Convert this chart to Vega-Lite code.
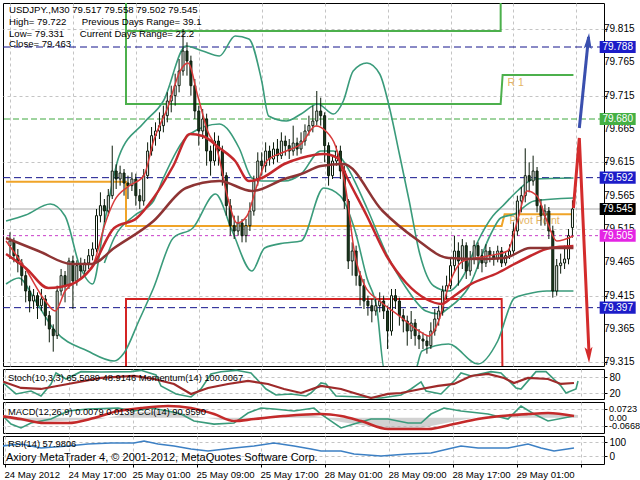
{
  "$schema": "https://vega.github.io/schema/vega-lite/v6.json",
  "background": "white",
  "padding": {"left": 2, "top": 2, "right": 0, "bottom": 0},
  "bounds": "flush",
  "spacing": 3,
  "config": {
    "view": {"stroke": "#000000", "strokeWidth": 1},
    "font": "Liberation Sans",
    "axis": {"domain": false, "gridColor": "#c4c4c4", "gridDash": [3, 3], "tickColor": "#000000", "labelColor": "#000000", "labelFont": "Liberation Sans", "labelFontSize": 10, "tickSize": 3, "labelPadding": 2, "labelOverlap": false}
  },
  "datasets": {
    "candles": [
      {"i":0,"o":79.490,"h":79.510,"l":79.470,"c":79.497},
      {"i":1,"o":79.497,"h":79.502,"l":79.465,"c":79.475},
      {"i":2,"o":79.475,"h":79.485,"l":79.450,"c":79.464},
      {"i":3,"o":79.464,"h":79.470,"l":79.430,"c":79.445},
      {"i":4,"o":79.445,"h":79.452,"l":79.405,"c":79.422},
      {"i":5,"o":79.422,"h":79.430,"l":79.390,"c":79.407},
      {"i":6,"o":79.407,"h":79.425,"l":79.395,"c":79.415},
      {"i":7,"o":79.415,"h":79.420,"l":79.380,"c":79.400},
      {"i":8,"o":79.400,"h":79.425,"l":79.392,"c":79.410},
      {"i":9,"o":79.410,"h":79.416,"l":79.370,"c":79.385},
      {"i":10,"o":79.385,"h":79.392,"l":79.345,"c":79.365},
      {"i":11,"o":79.365,"h":79.372,"l":79.331,"c":79.355},
      {"i":12,"o":79.355,"h":79.430,"l":79.350,"c":79.422},
      {"i":13,"o":79.422,"h":79.455,"l":79.415,"c":79.445},
      {"i":14,"o":79.445,"h":79.452,"l":79.405,"c":79.430},
      {"i":15,"o":79.430,"h":79.472,"l":79.425,"c":79.467},
      {"i":16,"o":79.467,"h":79.475,"l":79.395,"c":79.437},
      {"i":17,"o":79.437,"h":79.468,"l":79.430,"c":79.460},
      {"i":18,"o":79.460,"h":79.472,"l":79.440,"c":79.452},
      {"i":19,"o":79.452,"h":79.470,"l":79.445,"c":79.464},
      {"i":20,"o":79.464,"h":79.485,"l":79.455,"c":79.475},
      {"i":21,"o":79.475,"h":79.495,"l":79.468,"c":79.485},
      {"i":22,"o":79.485,"h":79.545,"l":79.480,"c":79.535},
      {"i":23,"o":79.535,"h":79.570,"l":79.525,"c":79.550},
      {"i":24,"o":79.550,"h":79.560,"l":79.525,"c":79.542},
      {"i":25,"o":79.542,"h":79.575,"l":79.535,"c":79.565},
      {"i":26,"o":79.565,"h":79.640,"l":79.560,"c":79.602},
      {"i":27,"o":79.602,"h":79.612,"l":79.575,"c":79.590},
      {"i":28,"o":79.590,"h":79.610,"l":79.580,"c":79.599},
      {"i":29,"o":79.599,"h":79.605,"l":79.565,"c":79.584},
      {"i":30,"o":79.584,"h":79.595,"l":79.560,"c":79.580},
      {"i":31,"o":79.580,"h":79.600,"l":79.572,"c":79.590},
      {"i":32,"o":79.590,"h":79.598,"l":79.550,"c":79.565},
      {"i":33,"o":79.565,"h":79.575,"l":79.545,"c":79.557},
      {"i":34,"o":79.557,"h":79.605,"l":79.550,"c":79.595},
      {"i":35,"o":79.595,"h":79.645,"l":79.590,"c":79.632},
      {"i":36,"o":79.632,"h":79.668,"l":79.625,"c":79.655},
      {"i":37,"o":79.655,"h":79.675,"l":79.640,"c":79.662},
      {"i":38,"o":79.662,"h":79.690,"l":79.650,"c":79.670},
      {"i":39,"o":79.670,"h":79.700,"l":79.660,"c":79.685},
      {"i":40,"o":79.685,"h":79.720,"l":79.675,"c":79.707},
      {"i":41,"o":79.707,"h":79.730,"l":79.690,"c":79.715},
      {"i":42,"o":79.715,"h":79.748,"l":79.700,"c":79.730},
      {"i":43,"o":79.730,"h":79.770,"l":79.720,"c":79.752},
      {"i":44,"o":79.752,"h":79.815,"l":79.745,"c":79.782},
      {"i":45,"o":79.782,"h":79.795,"l":79.745,"c":79.767},
      {"i":46,"o":79.767,"h":79.775,"l":79.715,"c":79.730},
      {"i":47,"o":79.730,"h":79.740,"l":79.680,"c":79.692},
      {"i":48,"o":79.692,"h":79.700,"l":79.640,"c":79.662},
      {"i":49,"o":79.662,"h":79.695,"l":79.650,"c":79.680},
      {"i":50,"o":79.680,"h":79.688,"l":79.610,"c":79.632},
      {"i":51,"o":79.632,"h":79.640,"l":79.595,"c":79.617},
      {"i":52,"o":79.617,"h":79.660,"l":79.610,"c":79.647},
      {"i":53,"o":79.647,"h":79.655,"l":79.610,"c":79.632},
      {"i":54,"o":79.632,"h":79.640,"l":79.580,"c":79.595},
      {"i":55,"o":79.595,"h":79.600,"l":79.535,"c":79.550},
      {"i":56,"o":79.550,"h":79.560,"l":79.505,"c":79.520},
      {"i":57,"o":79.520,"h":79.535,"l":79.500,"c":79.512},
      {"i":58,"o":79.512,"h":79.535,"l":79.505,"c":79.524},
      {"i":59,"o":79.524,"h":79.530,"l":79.495,"c":79.505},
      {"i":60,"o":79.505,"h":79.530,"l":79.495,"c":79.520},
      {"i":61,"o":79.520,"h":79.555,"l":79.512,"c":79.542},
      {"i":62,"o":79.542,"h":79.595,"l":79.535,"c":79.587},
      {"i":63,"o":79.587,"h":79.630,"l":79.580,"c":79.617},
      {"i":64,"o":79.617,"h":79.630,"l":79.595,"c":79.610},
      {"i":65,"o":79.610,"h":79.645,"l":79.600,"c":79.632},
      {"i":66,"o":79.632,"h":79.640,"l":79.610,"c":79.620},
      {"i":67,"o":79.620,"h":79.645,"l":79.612,"c":79.635},
      {"i":68,"o":79.635,"h":79.650,"l":79.615,"c":79.625},
      {"i":69,"o":79.625,"h":79.660,"l":79.620,"c":79.647},
      {"i":70,"o":79.647,"h":79.655,"l":79.625,"c":79.640},
      {"i":71,"o":79.640,"h":79.650,"l":79.620,"c":79.632},
      {"i":72,"o":79.632,"h":79.670,"l":79.625,"c":79.644},
      {"i":73,"o":79.644,"h":79.652,"l":79.625,"c":79.635},
      {"i":74,"o":79.635,"h":79.660,"l":79.628,"c":79.647},
      {"i":75,"o":79.647,"h":79.672,"l":79.640,"c":79.662},
      {"i":76,"o":79.662,"h":79.685,"l":79.655,"c":79.670},
      {"i":77,"o":79.670,"h":79.700,"l":79.660,"c":79.677},
      {"i":78,"o":79.677,"h":79.722,"l":79.670,"c":79.692},
      {"i":79,"o":79.692,"h":79.712,"l":79.670,"c":79.685},
      {"i":80,"o":79.685,"h":79.690,"l":79.615,"c":79.640},
      {"i":81,"o":79.640,"h":79.645,"l":79.580,"c":79.595},
      {"i":82,"o":79.595,"h":79.625,"l":79.590,"c":79.617},
      {"i":83,"o":79.617,"h":79.640,"l":79.610,"c":79.632},
      {"i":84,"o":79.632,"h":79.640,"l":79.590,"c":79.602},
      {"i":85,"o":79.602,"h":79.610,"l":79.545,"c":79.557},
      {"i":86,"o":79.557,"h":79.560,"l":79.455,"c":79.467},
      {"i":87,"o":79.467,"h":79.495,"l":79.445,"c":79.482},
      {"i":88,"o":79.482,"h":79.490,"l":79.430,"c":79.445},
      {"i":89,"o":79.445,"h":79.452,"l":79.400,"c":79.430},
      {"i":90,"o":79.430,"h":79.440,"l":79.395,"c":79.407},
      {"i":91,"o":79.407,"h":79.415,"l":79.385,"c":79.400},
      {"i":92,"o":79.400,"h":79.410,"l":79.375,"c":79.392},
      {"i":93,"o":79.392,"h":79.410,"l":79.385,"c":79.400},
      {"i":94,"o":79.400,"h":79.420,"l":79.390,"c":79.407},
      {"i":95,"o":79.407,"h":79.415,"l":79.380,"c":79.392},
      {"i":96,"o":79.392,"h":79.400,"l":79.335,"c":79.362},
      {"i":97,"o":79.362,"h":79.425,"l":79.355,"c":79.415},
      {"i":98,"o":79.415,"h":79.425,"l":79.395,"c":79.407},
      {"i":99,"o":79.407,"h":79.412,"l":79.370,"c":79.385},
      {"i":100,"o":79.385,"h":79.395,"l":79.360,"c":79.377},
      {"i":101,"o":79.377,"h":79.385,"l":79.340,"c":79.362},
      {"i":102,"o":79.362,"h":79.392,"l":79.350,"c":79.374},
      {"i":103,"o":79.374,"h":79.380,"l":79.340,"c":79.355},
      {"i":104,"o":79.355,"h":79.365,"l":79.335,"c":79.350},
      {"i":105,"o":79.350,"h":79.360,"l":79.335,"c":79.347},
      {"i":106,"o":79.347,"h":79.355,"l":79.328,"c":79.340},
      {"i":107,"o":79.340,"h":79.375,"l":79.335,"c":79.362},
      {"i":108,"o":79.362,"h":79.395,"l":79.355,"c":79.380},
      {"i":109,"o":79.380,"h":79.400,"l":79.370,"c":79.392},
      {"i":110,"o":79.392,"h":79.430,"l":79.385,"c":79.422},
      {"i":111,"o":79.422,"h":79.445,"l":79.410,"c":79.430},
      {"i":112,"o":79.430,"h":79.470,"l":79.425,"c":79.460},
      {"i":113,"o":79.460,"h":79.505,"l":79.450,"c":79.482},
      {"i":114,"o":79.482,"h":79.495,"l":79.430,"c":79.467},
      {"i":115,"o":79.467,"h":79.500,"l":79.455,"c":79.490},
      {"i":116,"o":79.490,"h":79.495,"l":79.440,"c":79.452},
      {"i":117,"o":79.452,"h":79.482,"l":79.445,"c":79.470},
      {"i":118,"o":79.470,"h":79.498,"l":79.462,"c":79.490},
      {"i":119,"o":79.490,"h":79.495,"l":79.455,"c":79.475},
      {"i":120,"o":79.475,"h":79.485,"l":79.450,"c":79.464},
      {"i":121,"o":79.464,"h":79.492,"l":79.458,"c":79.482},
      {"i":122,"o":79.482,"h":79.488,"l":79.465,"c":79.475},
      {"i":123,"o":79.475,"h":79.482,"l":79.460,"c":79.470},
      {"i":124,"o":79.470,"h":79.490,"l":79.465,"c":79.482},
      {"i":125,"o":79.482,"h":79.488,"l":79.458,"c":79.464},
      {"i":126,"o":79.464,"h":79.482,"l":79.460,"c":79.475},
      {"i":127,"o":79.475,"h":79.492,"l":79.470,"c":79.482},
      {"i":128,"o":79.482,"h":79.525,"l":79.475,"c":79.512},
      {"i":129,"o":79.512,"h":79.565,"l":79.505,"c":79.557},
      {"i":130,"o":79.557,"h":79.578,"l":79.540,"c":79.565},
      {"i":131,"o":79.565,"h":79.636,"l":79.555,"c":79.595},
      {"i":132,"o":79.595,"h":79.615,"l":79.570,"c":79.587},
      {"i":133,"o":79.587,"h":79.625,"l":79.580,"c":79.602},
      {"i":134,"o":79.602,"h":79.608,"l":79.540,"c":79.550},
      {"i":135,"o":79.550,"h":79.560,"l":79.520,"c":79.535},
      {"i":136,"o":79.535,"h":79.552,"l":79.520,"c":79.542},
      {"i":137,"o":79.542,"h":79.548,"l":79.500,"c":79.512},
      {"i":138,"o":79.512,"h":79.520,"l":79.412,"c":79.422},
      {"i":139,"o":79.422,"h":79.470,"l":79.415,"c":79.460},
      {"i":140,"o":79.460,"h":79.478,"l":79.448,"c":79.464},
      {"i":141,"o":79.464,"h":79.490,"l":79.455,"c":79.470},
      {"i":142,"o":79.470,"h":79.515,"l":79.462,"c":79.505},
      {"i":143,"o":79.517,"h":79.558,"l":79.502,"c":79.545}
    ],
    "ma": [
      {"s":"U","i":-1,"p":79.527},{"s":"U","i":4,"p":79.536},{"s":"U","i":10.25,"p":79.5525},{"s":"U","i":14,"p":79.5345},{"s":"U","i":17.75,"p":79.4595},{"s":"U","i":21,"p":79.4325},{"s":"U","i":24,"p":79.524},{"s":"U","i":27.75,"p":79.6245},{"s":"U","i":34,"p":79.674},{"s":"U","i":39,"p":79.707},{"s":"U","i":44.75,"p":79.7895},{"s":"U","i":49,"p":79.782},{"s":"U","i":53.25,"p":79.7745},{"s":"U","i":57.25,"p":79.8045},{"s":"U","i":60.75,"p":79.8},{"s":"U","i":64,"p":79.737},{"s":"U","i":65.75,"p":79.6845},{"s":"U","i":70.25,"p":79.677},{"s":"U","i":74,"p":79.6875},{"s":"U","i":78.25,"p":79.7025},{"s":"U","i":82.25,"p":79.6875},{"s":"U","i":84.75,"p":79.707},{"s":"U","i":87.25,"p":79.752},{"s":"U","i":90.75,"p":79.764},{"s":"U","i":94,"p":79.7475},{"s":"U","i":96.5,"p":79.6965},{"s":"U","i":99,"p":79.6275},{"s":"U","i":101.5,"p":79.557},{"s":"U","i":104,"p":79.482},{"s":"U","i":107.75,"p":79.4295},{"s":"U","i":111.5,"p":79.422},{"s":"U","i":115.25,"p":79.4445},{"s":"U","i":119,"p":79.497},{"s":"U","i":122.75,"p":79.5345},{"s":"U","i":125.25,"p":79.5495},{"s":"U","i":129,"p":79.572},{"s":"U","i":133.25,"p":79.59},{"s":"U","i":143.25,"p":79.5915},
      {"s":"M","i":24,"p":79.464},{"s":"M","i":26.5,"p":79.5015},{"s":"M","i":31.5,"p":79.5345},{"s":"M","i":36.5,"p":79.557},{"s":"M","i":39,"p":79.5915},{"s":"M","i":45.75,"p":79.6575},{"s":"M","i":53.25,"p":79.6725},{"s":"M","i":58.25,"p":79.6365},{"s":"M","i":61.5,"p":79.5915},{"s":"M","i":64,"p":79.587},{"s":"M","i":69.75,"p":79.587},{"s":"M","i":74,"p":79.5975},{"s":"M","i":79,"p":79.632},{"s":"M","i":82.25,"p":79.632},{"s":"M","i":84.75,"p":79.617},{"s":"M","i":90.75,"p":79.5465},{"s":"M","i":95.75,"p":79.4775},{"s":"M","i":100.75,"p":79.4265},{"s":"M","i":105.75,"p":79.392},{"s":"M","i":109,"p":79.3875},{"s":"M","i":111.5,"p":79.3965},{"s":"M","i":116.5,"p":79.4265},{"s":"M","i":122.25,"p":79.5075},{"s":"M","i":124.75,"p":79.5315},{"s":"M","i":128.25,"p":79.5375},{"s":"M","i":133.25,"p":79.557},{"s":"M","i":143.25,"p":79.5615},
      {"s":"L","i":-1,"p":79.4325},{"s":"L","i":2.25,"p":79.4415},{"s":"L","i":6.5,"p":79.407},{"s":"L","i":11.5,"p":79.362},{"s":"L","i":19.75,"p":79.332},{"s":"L","i":26.5,"p":79.317},{"s":"L","i":29,"p":79.329},{"s":"L","i":32.75,"p":79.377},{"s":"L","i":36.5,"p":79.4265},{"s":"L","i":41.5,"p":79.5015},{"s":"L","i":46.5,"p":79.5165},{"s":"L","i":52.25,"p":79.5675},{"s":"L","i":56.5,"p":79.512},{"s":"L","i":61.5,"p":79.452},{"s":"L","i":64.75,"p":79.4865},{"s":"L","i":69.75,"p":79.494},{"s":"L","i":74,"p":79.497},{"s":"L","i":79.75,"p":79.5765},{"s":"L","i":84,"p":79.5645},{"s":"L","i":87.75,"p":79.512},{"s":"L","i":90.75,"p":79.4415},{"s":"L","i":93.25,"p":79.3965},{"s":"L","i":95.25,"p":79.302},{"s":"L","i":102.75,"p":79.299},{"s":"L","i":104.75,"p":79.332},{"s":"L","i":111.5,"p":79.3425},{"s":"L","i":119,"p":79.3125},{"s":"L","i":124,"p":79.347},{"s":"L","i":128.25,"p":79.4115},{"s":"L","i":131.5,"p":79.4175},{"s":"L","i":136.5,"p":79.422},{"s":"L","i":143.25,"p":79.422},
      {"s":"R1","i":-1,"p":79.497},{"s":"R1","i":4,"p":79.455},{"s":"R1","i":9,"p":79.407},{"s":"R1","i":11.5,"p":79.392},{"s":"R1","i":14,"p":79.422},{"s":"R1","i":17.75,"p":79.44},{"s":"R1","i":21.5,"p":79.467},{"s":"R1","i":24,"p":79.5195},{"s":"R1","i":26.5,"p":79.557},{"s":"R1","i":30.25,"p":79.5795},{"s":"R1","i":34,"p":79.5945},{"s":"R1","i":36.5,"p":79.647},{"s":"R1","i":40.25,"p":79.6995},{"s":"R1","i":43.25,"p":79.752},{"s":"R1","i":45.25,"p":79.764},{"s":"R1","i":47.75,"p":79.7145},{"s":"R1","i":50.25,"p":79.662},{"s":"R1","i":52.75,"p":79.632},{"s":"R1","i":55.25,"p":79.5645},{"s":"R1","i":57.75,"p":79.524},{"s":"R1","i":60.25,"p":79.5345},{"s":"R1","i":62.75,"p":79.5795},{"s":"R1","i":65.25,"p":79.617},{"s":"R1","i":70.25,"p":79.632},{"s":"R1","i":74,"p":79.6425},{"s":"R1","i":77.75,"p":79.6695},{"s":"R1","i":80.25,"p":79.662},{"s":"R1","i":82.75,"p":79.6395},{"s":"R1","i":85.25,"p":79.5795},{"s":"R1","i":87.75,"p":79.4745},{"s":"R1","i":90.25,"p":79.4295},{"s":"R1","i":94,"p":79.407},{"s":"R1","i":99,"p":79.3845},{"s":"R1","i":104,"p":79.362},{"s":"R1","i":106.5,"p":79.3545},{"s":"R1","i":109,"p":79.377},{"s":"R1","i":111.5,"p":79.4295},{"s":"R1","i":115.25,"p":79.467},{"s":"R1","i":121.5,"p":79.4745},{"s":"R1","i":126.5,"p":79.482},{"s":"R1","i":129,"p":79.527},{"s":"R1","i":131.5,"p":79.572},{"s":"R1","i":134,"p":79.5645},{"s":"R1","i":136.5,"p":79.527},{"s":"R1","i":139,"p":79.497},{"s":"R1","i":143.25,"p":79.5045},
      {"s":"R2","i":-1,"p":79.4775},{"s":"R2","i":4,"p":79.4565},{"s":"R2","i":9.75,"p":79.4265},{"s":"R2","i":15.75,"p":79.4325},{"s":"R2","i":20.75,"p":79.4565},{"s":"R2","i":26.5,"p":79.5165},{"s":"R2","i":32.25,"p":79.5315},{"s":"R2","i":36.5,"p":79.5615},{"s":"R2","i":41.5,"p":79.6095},{"s":"R2","i":45.75,"p":79.6575},{"s":"R2","i":49,"p":79.6545},{"s":"R2","i":53.25,"p":79.6365},{"s":"R2","i":57.25,"p":79.617},{"s":"R2","i":60.75,"p":79.587},{"s":"R2","i":64,"p":79.5915},{"s":"R2","i":69.75,"p":79.6125},{"s":"R2","i":74,"p":79.6215},{"s":"R2","i":79.75,"p":79.6275},{"s":"R2","i":83.25,"p":79.6215},{"s":"R2","i":85.75,"p":79.5915},{"s":"R2","i":90.75,"p":79.5345},{"s":"R2","i":95.75,"p":79.4745},{"s":"R2","i":100.75,"p":79.434},{"s":"R2","i":105.75,"p":79.41},{"s":"R2","i":109.75,"p":79.4025},{"s":"R2","i":112.25,"p":79.4115},{"s":"R2","i":117.25,"p":79.4325},{"s":"R2","i":124,"p":79.449},{"s":"R2","i":128.25,"p":79.4625},{"s":"R2","i":132.25,"p":79.4745},{"s":"R2","i":137.25,"p":79.4865},{"s":"R2","i":143.25,"p":79.4895},
      {"s":"R3","i":-1,"p":79.5015},{"s":"R3","i":7.25,"p":79.482},{"s":"R3","i":15.75,"p":79.4625},{"s":"R3","i":20.75,"p":79.4625},{"s":"R3","i":26.5,"p":79.4865},{"s":"R3","i":36.5,"p":79.527},{"s":"R3","i":44.75,"p":79.5765},{"s":"R3","i":53.25,"p":79.587},{"s":"R3","i":61.5,"p":79.572},{"s":"R3","i":69.75,"p":79.59},{"s":"R3","i":74,"p":79.5975},{"s":"R3","i":79,"p":79.6095},{"s":"R3","i":84.75,"p":79.6125},{"s":"R3","i":94.75,"p":79.542},{"s":"R3","i":103.25,"p":79.5},{"s":"R3","i":111.5,"p":79.4715},{"s":"R3","i":119.75,"p":79.47},{"s":"R3","i":125.75,"p":79.4715},{"s":"R3","i":132.25,"p":79.4865},{"s":"R3","i":143.25,"p":79.4865}
    ],
    "levels": [
      {"k":"navy","p":79.788},{"k":"navy","p":79.592},{"k":"navy","p":79.397},
      {"k":"green","p":79.680},{"k":"magenta","p":79.505},{"k":"bid","p":79.545}
    ],
    "yticks": [
      {"p":79.315},{"p":79.365},{"p":79.415},{"p":79.465},{"p":79.515},{"p":79.565},{"p":79.615},{"p":79.665},{"p":79.715},{"p":79.765},{"p":79.815}
    ],
    "pivots": [
      {"s":"G1","n":0,"i":29.5,"p":79.87},{"s":"G1","n":1,"i":29.5,"p":79.7025},{"s":"G1","n":2,"i":124.75,"p":79.7025},{"s":"G1","n":3,"i":125.25,"p":79.746},{"s":"G1","n":4,"i":143.25,"p":79.746},
      {"s":"G2","n":0,"i":29.5,"p":79.812},{"s":"G2","n":1,"i":124.75,"p":79.812},{"s":"G2","n":2,"i":124.75,"p":79.87},
      {"s":"PP","n":0,"i":-1,"p":79.586},{"s":"PP","n":1,"i":29.5,"p":79.586},{"s":"PP","n":2,"i":29.5,"p":79.5195},{"s":"PP","n":3,"i":125,"p":79.5195},{"s":"PP","n":4,"i":125.75,"p":79.537},{"s":"PP","n":5,"i":143.25,"p":79.537},
      {"s":"S1","n":0,"i":29.5,"p":79.28},{"s":"S1","n":1,"i":29.5,"p":79.41},{"s":"S1","n":2,"i":125,"p":79.41},{"s":"S1","n":3,"i":125.25,"p":79.28}
    ],
    "arrows": [
      {"s":"B","n":0,"i":144.75,"p":79.6665},{"s":"B","n":1,"i":147.1,"p":79.803},
      {"s":"R","n":0,"i":143.25,"p":79.5465},{"s":"R","n":1,"i":144.75,"p":79.6515},{"s":"R","n":2,"i":147.2,"p":79.33}
    ],
    "heads": [
      {"s":"B","i":147.05,"p":79.797},
      {"s":"R","i":147.15,"p":79.326}
    ],
    "tags": [
      {"k":"navy","p":79.788,"t":"79.788"},
      {"k":"green","p":79.680,"t":"79.680"},
      {"k":"navy","p":79.592,"t":"79.592"},
      {"k":"black","p":79.545,"t":"79.545"},
      {"k":"magenta","p":79.505,"t":"79.505"},
      {"k":"navy","p":79.397,"t":"79.397"}
    ],
    "stoch": [
      {"s":"K","i":-1,"v":65.1},{"s":"K","i":2.75,"v":16.4},{"s":"K","i":6.5,"v":27.6},{"s":"K","i":9,"v":8.9},{"s":"K","i":11.5,"v":53.9},{"s":"K","i":12.75,"v":95.1},{"s":"K","i":15.25,"v":72.6},{"s":"K","i":19,"v":100},{"s":"K","i":24,"v":98.9},{"s":"K","i":31.5,"v":100},{"s":"K","i":34,"v":105},{"s":"K","i":37.75,"v":87.6},{"s":"K","i":39,"v":46.4},{"s":"K","i":42.75,"v":16.4},{"s":"K","i":46.5,"v":5.1},{"s":"K","i":49,"v":35.1},{"s":"K","i":51.5,"v":91.4},{"s":"K","i":54,"v":100},{"s":"K","i":57.75,"v":105},{"s":"K","i":61.5,"v":95},{"s":"K","i":65.25,"v":35},{"s":"K","i":67.75,"v":12.6},{"s":"K","i":71.5,"v":16.4},{"s":"K","i":75.25,"v":8.9},{"s":"K","i":76.5,"v":20},{"s":"K","i":79,"v":57.6},{"s":"K","i":80.25,"v":53.9},{"s":"K","i":82.75,"v":8.9},{"s":"K","i":89,"v":5.1},{"s":"K","i":94,"v":1.4},{"s":"K","i":99,"v":12.6},{"s":"K","i":101.5,"v":35},{"s":"K","i":104,"v":61.4},{"s":"K","i":105.25,"v":27.6},{"s":"K","i":109,"v":16.4},{"s":"K","i":112.75,"v":72.6},{"s":"K","i":114,"v":95},{"s":"K","i":116.5,"v":84},{"s":"K","i":121.5,"v":100},{"s":"K","i":124,"v":95},{"s":"K","i":127.75,"v":39},{"s":"K","i":129,"v":35},{"s":"K","i":132.75,"v":100},{"s":"K","i":135.25,"v":100},{"s":"K","i":139,"v":46.4},{"s":"K","i":140.25,"v":20},{"s":"K","i":142.75,"v":35},{"s":"K","i":143.25,"v":65.1},
      {"s":"M","i":-1,"v":65.1},{"s":"M","i":4,"v":38.9},{"s":"M","i":9,"v":35.1},{"s":"M","i":15.75,"v":53.9},{"s":"M","i":24,"v":76.4},{"s":"M","i":32.25,"v":83.9},{"s":"M","i":37.25,"v":72.6},{"s":"M","i":42.25,"v":53.9},{"s":"M","i":46.5,"v":16.4},{"s":"M","i":50.75,"v":38.9},{"s":"M","i":55.75,"v":53.9},{"s":"M","i":60.75,"v":65.1},{"s":"M","i":65.75,"v":53.9},{"s":"M","i":69.75,"v":35.1},{"s":"M","i":74,"v":20.1},{"s":"M","i":79,"v":46.4},{"s":"M","i":84,"v":35.1},{"s":"M","i":87.25,"v":20.1},{"s":"M","i":91.5,"v":1.4},{"s":"M","i":95.75,"v":16.4},{"s":"M","i":99,"v":20.1},{"s":"M","i":104,"v":35.1},{"s":"M","i":108.25,"v":46.4},{"s":"M","i":112.25,"v":53.9},{"s":"M","i":116.5,"v":83.9},{"s":"M","i":120.75,"v":91.4},{"s":"M","i":124.75,"v":76.4},{"s":"M","i":127.25,"v":57.6},{"s":"M","i":130.75,"v":76.4},{"s":"M","i":135.75,"v":72.6},{"s":"M","i":139,"v":53.9},{"s":"M","i":142.25,"v":57.6}
    ],
    "macd": [
      {"s":"C","i":-1,"v":0.031},{"s":"C","i":1.5,"v":-0.051},{"s":"C","i":4,"v":-0.083},{"s":"C","i":6.5,"v":-0.0425},{"s":"C","i":11.5,"v":-0.0098},{"s":"C","i":15.75,"v":0.056},{"s":"C","i":20.75,"v":0.072},{"s":"C","i":28.25,"v":0.08},{"s":"C","i":32.25,"v":0.056},{"s":"C","i":36.5,"v":0.08},{"s":"C","i":40.75,"v":0.056},{"s":"C","i":44,"v":0.031},{"s":"C","i":47.25,"v":-0.026},{"s":"C","i":52.25,"v":-0.051},{"s":"C","i":57.25,"v":-0.0425},{"s":"C","i":60.75,"v":0.039},{"s":"C","i":64,"v":0.08},{"s":"C","i":67.25,"v":0.072},{"s":"C","i":72.25,"v":0.056},{"s":"C","i":77.25,"v":0.08},{"s":"C","i":79,"v":0.031},{"s":"C","i":84,"v":-0.083},{"s":"C","i":87.25,"v":-0.051},{"s":"C","i":91.5,"v":-0.0098},{"s":"C","i":95.75,"v":-0.0098},{"s":"C","i":100.75,"v":-0.0425},{"s":"C","i":104,"v":-0.0425},{"s":"C","i":106.5,"v":0.031},{"s":"C","i":109.75,"v":0.08},{"s":"C","i":114,"v":0.056},{"s":"C","i":120.75,"v":0.031},{"s":"C","i":125.75,"v":-0.0098},{"s":"C","i":129,"v":0.0965},{"s":"C","i":132.25,"v":0.031},{"s":"C","i":135.75,"v":-0.026},{"s":"C","i":142.25,"v":0.0147},
      {"s":"S","i":-1,"v":0.0147},{"s":"S","i":4,"v":-0.0098},{"s":"S","i":9.75,"v":-0.0425},{"s":"S","i":15.75,"v":-0.0425},{"s":"S","i":22.25,"v":-0.0016},{"s":"S","i":28.25,"v":0.0556},{"s":"S","i":34,"v":0.08},{"s":"S","i":40.75,"v":0.0965},{"s":"S","i":46.5,"v":0.08},{"s":"S","i":52.25,"v":0.031},{"s":"S","i":57.25,"v":-0.026},{"s":"S","i":62.25,"v":-0.0098},{"s":"S","i":69.75,"v":0.0147},{"s":"S","i":79,"v":0.031},{"s":"S","i":84,"v":0.0147},{"s":"S","i":89,"v":-0.026},{"s":"S","i":95.75,"v":-0.0916},{"s":"S","i":105.75,"v":-0.0916},{"s":"S","i":112.25,"v":-0.0507},{"s":"S","i":118.25,"v":-0.0098},{"s":"S","i":124,"v":0.0147},{"s":"S","i":130.75,"v":0.031},{"s":"S","i":135.75,"v":0.039},{"s":"S","i":142.25,"v":0.0147},
      {"s":"H","i":-1,"v":0},{"s":"H","i":4,"v":-0.026},{"s":"H","i":9,"v":-0.034},{"s":"H","i":14,"v":-0.026},{"s":"H","i":19,"v":-0.018},{"s":"H","i":24,"v":-0.01},{"s":"H","i":29,"v":0.023},{"s":"H","i":34,"v":0.047},{"s":"H","i":39,"v":0.056},{"s":"H","i":44,"v":0.039},{"s":"H","i":49,"v":0.0065},{"s":"H","i":54,"v":-0.018},{"s":"H","i":59,"v":-0.01},{"s":"H","i":64,"v":0.0065},{"s":"H","i":69,"v":0.023},{"s":"H","i":74,"v":0.031},{"s":"H","i":79,"v":0.0065},{"s":"H","i":84,"v":-0.034},{"s":"H","i":89,"v":-0.059},{"s":"H","i":94,"v":-0.083},{"s":"H","i":99,"v":-0.092},{"s":"H","i":104,"v":-0.083},{"s":"H","i":109,"v":-0.051},{"s":"H","i":114,"v":-0.018},{"s":"H","i":119,"v":0.0065},{"s":"H","i":124,"v":0.023},{"s":"H","i":129,"v":0.039},{"s":"H","i":134,"v":0.039},{"s":"H","i":139,"v":0.031},{"s":"H","i":143.25,"v":0.023}
    ],
    "rsi": [
      {"i":-1,"v":71.4},{"i":4,"v":85.7},{"i":9,"v":57.2},{"i":15.75,"v":71.4},{"i":20.75,"v":85.7},{"i":26.5,"v":92.9},{"i":32.25,"v":92.9},{"i":34.75,"v":107},{"i":38.25,"v":85.7},{"i":42.25,"v":71.4},{"i":46.5,"v":50},{"i":50.75,"v":35.7},{"i":57.25,"v":57.2},{"i":62.25,"v":71.4},{"i":67.25,"v":92.9},{"i":72.25,"v":71.4},{"i":76.5,"v":50},{"i":79,"v":35.7},{"i":84,"v":35.7},{"i":87.25,"v":14.3},{"i":94,"v":0},{"i":100.75,"v":14.3},{"i":106.5,"v":21.5},{"i":110.75,"v":50},{"i":114,"v":71.4},{"i":118.25,"v":57.2},{"i":125.75,"v":57.2},{"i":130.75,"v":85.7},{"i":134,"v":57.2},{"i":137.25,"v":35.7},{"i":142.25,"v":57.2}
    ]
  },
  "vconcat": [
    {
      "width": 601,
      "height": 363,
      "resolve": {"scale": {"color": "independent"}},
      "layer": [
        {
          "data": {"name": "levels"},
          "transform": [{"filter": "datum.k == 'navy'"}],
          "mark": {"type": "rule", "color": "#14148c", "strokeWidth": 1, "strokeDash": [7, 4]},
          "encoding": {
            "y": {"field": "p", "type": "quantitative", "scale": {"domain": [79.3095, 79.854], "nice": false, "zero": false}, "title": null,
                  "axis": {"orient": "right", "values": [79.315, 79.365, 79.415, 79.465, 79.515, 79.565, 79.615, 79.665, 79.715, 79.765, 79.815], "labels": false, "grid": true}}
          }
        },
        {
          "data": {"name": "levels"},
          "transform": [{"filter": "datum.k == 'green'"}],
          "mark": {"type": "rule", "color": "#3fa83f", "strokeWidth": 1, "strokeDash": [6, 3]},
          "encoding": {"y": {"field": "p", "type": "quantitative", "scale": {"domain": [79.3095, 79.854], "nice": false, "zero": false}, "title": null}}
        },
        {
          "data": {"name": "levels"},
          "transform": [{"filter": "datum.k == 'magenta'"}],
          "mark": {"type": "rule", "color": "#c83cc8", "strokeWidth": 1, "strokeDash": [3, 3]},
          "encoding": {"y": {"field": "p", "type": "quantitative", "scale": {"domain": [79.3095, 79.854], "nice": false, "zero": false}, "title": null}}
        },
        {
          "data": {"name": "levels"},
          "transform": [{"filter": "datum.k == 'bid'"}],
          "mark": {"type": "rule", "color": "#a8a8a8", "strokeWidth": 1},
          "encoding": {"y": {"field": "p", "type": "quantitative", "scale": {"domain": [79.3095, 79.854], "nice": false, "zero": false}, "title": null}}
        },
        {
          "data": {"name": "pivots"},
          "mark": {"type": "line", "strokeWidth": 2, "clip": true},
          "encoding": {
            "x": {"field": "i", "type": "quantitative", "scale": {"domain": [-0.5, 149.75], "nice": false, "zero": false}, "title": null,
                  "axis": {"values": [0, 8, 16, 24, 32, 40, 48, 56, 64, 72, 80, 88, 96, 104, 112, 120, 128, 136, 144], "labels": false, "ticks": false, "grid": true}},
            "y": {"field": "p", "type": "quantitative", "scale": {"domain": [79.3095, 79.854], "nice": false, "zero": false}, "title": null},
            "color": {"field": "s", "type": "nominal", "scale": {"domain": ["G1", "G2", "PP", "S1"], "range": ["#4cb04c", "#4cb04c", "#f0a428", "#d42424"]}, "legend": null},
            "detail": {"field": "s"},
            "order": {"field": "n"}
          }
        },
        {
          "data": {"values": [{"i": 126.5, "p": 79.734, "t": "R 1"}, {"i": 127, "p": 79.527, "t": "Pivot Point"}]},
          "mark": {"type": "text", "align": "left", "baseline": "middle", "fontSize": 10.5, "font": "Liberation Sans", "color": "#e0a848", "opacity": 0.85},
          "encoding": {
            "x": {"field": "i", "type": "quantitative", "scale": {"domain": [-0.5, 149.75], "nice": false, "zero": false}, "title": null},
            "y": {"field": "p", "type": "quantitative", "scale": {"domain": [79.3095, 79.854], "nice": false, "zero": false}, "title": null},
            "text": {"field": "t"}
          }
        },
        {
          "data": {"name": "ma"},
          "transform": [{"filter": "datum.s == 'U' || datum.s == 'M' || datum.s == 'L'"}],
          "mark": {"type": "line", "color": "#3a9b7b", "strokeWidth": 1.6, "interpolate": "monotone", "clip": true},
          "encoding": {
            "x": {"field": "i", "type": "quantitative", "scale": {"domain": [-0.5, 149.75], "nice": false, "zero": false}, "title": null},
            "y": {"field": "p", "type": "quantitative", "scale": {"domain": [79.3095, 79.854], "nice": false, "zero": false}, "title": null},
            "detail": {"field": "s"}
          }
        },
        {
          "data": {"name": "candles"},
          "mark": {"type": "rule", "color": "#0a1a0a", "strokeWidth": 1, "clip": true},
          "encoding": {
            "x": {"field": "i", "type": "quantitative", "scale": {"domain": [-0.5, 149.75], "nice": false, "zero": false}, "title": null},
            "y": {"field": "l", "type": "quantitative", "scale": {"domain": [79.3095, 79.854], "nice": false, "zero": false}, "title": null},
            "y2": {"field": "h"}
          }
        },
        {
          "data": {"name": "candles"},
          "mark": {"type": "bar", "size": 2, "stroke": "#0a1a0a", "strokeWidth": 1, "clip": true},
          "encoding": {
            "x": {"field": "i", "type": "quantitative", "scale": {"domain": [-0.5, 149.75], "nice": false, "zero": false}, "title": null},
            "y": {"field": "o", "type": "quantitative", "scale": {"domain": [79.3095, 79.854], "nice": false, "zero": false}, "title": null},
            "y2": {"field": "c"},
            "fill": {"condition": {"test": "datum.c >= datum.o", "value": "#ffffff"}, "value": "#1f3d22"}
          }
        },
        {
          "data": {"name": "ma"},
          "transform": [{"filter": "datum.s == 'R1'"}],
          "mark": {"type": "line", "color": "#d83a3a", "strokeWidth": 1.5, "interpolate": "monotone", "clip": true},
          "encoding": {
            "x": {"field": "i", "type": "quantitative", "scale": {"domain": [-0.5, 149.75], "nice": false, "zero": false}, "title": null},
            "y": {"field": "p", "type": "quantitative", "scale": {"domain": [79.3095, 79.854], "nice": false, "zero": false}, "title": null}
          }
        },
        {
          "data": {"name": "ma"},
          "transform": [{"filter": "datum.s == 'R2' || datum.s == 'R3'"}],
          "mark": {"type": "line", "strokeWidth": 2.5, "interpolate": "monotone", "clip": true},
          "encoding": {
            "x": {"field": "i", "type": "quantitative", "scale": {"domain": [-0.5, 149.75], "nice": false, "zero": false}, "title": null},
            "y": {"field": "p", "type": "quantitative", "scale": {"domain": [79.3095, 79.854], "nice": false, "zero": false}, "title": null},
            "color": {"field": "s", "type": "nominal", "scale": {"domain": ["R2", "R3"], "range": ["#c4282c", "#8e3434"]}, "legend": null}
          }
        },
        {
          "data": {"name": "arrows"},
          "mark": {"type": "line", "strokeWidth": 3},
          "encoding": {
            "x": {"field": "i", "type": "quantitative", "scale": {"domain": [-0.5, 149.75], "nice": false, "zero": false}, "title": null},
            "y": {"field": "p", "type": "quantitative", "scale": {"domain": [79.3095, 79.854], "nice": false, "zero": false}, "title": null},
            "color": {"field": "s", "type": "nominal", "scale": {"domain": ["B", "R"], "range": ["#3a4fae", "#d42c2c"]}, "legend": null},
            "order": {"field": "n"}
          }
        },
        {
          "data": {"name": "heads"},
          "transform": [{"filter": "datum.s == 'B'"}],
          "mark": {"type": "point", "filled": true, "shape": "M0,-1L0.5,1L0,0.55L-0.5,1Z", "size": 256, "angle": 5, "color": "#3a4fae", "opacity": 1},
          "encoding": {
            "x": {"field": "i", "type": "quantitative", "scale": {"domain": [-0.5, 149.75], "nice": false, "zero": false}, "title": null},
            "y": {"field": "p", "type": "quantitative", "scale": {"domain": [79.3095, 79.854], "nice": false, "zero": false}, "title": null}
          }
        },
        {
          "data": {"name": "heads"},
          "transform": [{"filter": "datum.s == 'R'"}],
          "mark": {"type": "point", "filled": true, "shape": "M0,-1L0.5,1L0,0.55L-0.5,1Z", "size": 256, "angle": 178, "color": "#d42c2c", "opacity": 1},
          "encoding": {
            "x": {"field": "i", "type": "quantitative", "scale": {"domain": [-0.5, 149.75], "nice": false, "zero": false}, "title": null},
            "y": {"field": "p", "type": "quantitative", "scale": {"domain": [79.3095, 79.854], "nice": false, "zero": false}, "title": null}
          }
        },
        {
          "data": {"values": [
            {"i": -0.25, "p": 79.8435, "t": "USDJPY.,M30  79.517 79.558 79.502 79.545"},
            {"i": -0.25, "p": 79.8255, "t": "High= 79.722"},
            {"i": 18.25, "p": 79.8255, "t": "Previous Days Range= 39.1"},
            {"i": -0.25, "p": 79.8075, "t": "Low= 79.331"},
            {"i": 17.75, "p": 79.8075, "t": "Current Days Range= 22.2"},
            {"i": -0.25, "p": 79.7925, "t": "Close= 79.463"}
          ]},
          "mark": {"type": "text", "align": "left", "baseline": "middle", "fontSize": 9.6, "font": "Liberation Sans", "color": "#000000"},
          "encoding": {
            "x": {"field": "i", "type": "quantitative", "scale": {"domain": [-0.5, 149.75], "nice": false, "zero": false}, "title": null},
            "y": {"field": "p", "type": "quantitative", "scale": {"domain": [79.3095, 79.854], "nice": false, "zero": false}, "title": null},
            "text": {"field": "t"}
          }
        },
        {
          "data": {"name": "yticks"},
          "mark": {"type": "text", "align": "left", "baseline": "middle", "fontSize": 10, "font": "Liberation Sans", "color": "#000000"},
          "encoding": {
            "x": {"datum": 151, "type": "quantitative", "scale": {"domain": [-0.5, 149.75], "nice": false, "zero": false}, "title": null},
            "y": {"field": "p", "type": "quantitative", "scale": {"domain": [79.3095, 79.854], "nice": false, "zero": false}, "title": null},
            "text": {"field": "p", "type": "quantitative", "format": ".3f"}
          }
        },
        {
          "data": {"name": "tags"},
          "mark": {"type": "point", "filled": true, "shape": "M-1,-0.34L1,-0.34L1,0.34L-1,0.34Z", "size": 1296, "opacity": 1, "strokeWidth": 0},
          "encoding": {
            "x": {"datum": 154.5, "type": "quantitative", "scale": {"domain": [-0.5, 149.75], "nice": false, "zero": false}, "title": null},
            "y": {"field": "p", "type": "quantitative", "scale": {"domain": [79.3095, 79.854], "nice": false, "zero": false}, "title": null},
            "color": {"field": "k", "type": "nominal", "scale": {"domain": ["navy", "green", "black", "magenta"], "range": ["#1c1cc8", "#44b044", "#000000", "#e424e4"]}, "legend": null}
          }
        },
        {
          "data": {"name": "tags"},
          "mark": {"type": "text", "align": "center", "baseline": "middle", "fontSize": 10, "font": "Liberation Sans", "color": "#ffffff"},
          "encoding": {
            "x": {"datum": 154.5, "type": "quantitative", "scale": {"domain": [-0.5, 149.75], "nice": false, "zero": false}, "title": null},
            "y": {"field": "p", "type": "quantitative", "scale": {"domain": [79.3095, 79.854], "nice": false, "zero": false}, "title": null},
            "text": {"field": "t"}
          }
        }
      ]
    },
    {
      "width": 601,
      "height": 30,
      "layer": [
        {
          "data": {"name": "stoch"},
          "transform": [{"filter": "datum.s == 'K'"}],
          "mark": {"type": "line", "color": "#3a9b7b", "strokeWidth": 1.6, "clip": true},
          "encoding": {
            "x": {"field": "i", "type": "quantitative", "scale": {"domain": [-0.5, 149.75], "nice": false, "zero": false}, "title": null,
                  "axis": {"values": [0, 8, 16, 24, 32, 40, 48, 56, 64, 72, 80, 88, 96, 104, 112, 120, 128, 136, 144], "labels": false, "ticks": false, "grid": true}},
            "y": {"field": "v", "type": "quantitative", "scale": {"domain": [-2.5, 110], "nice": false, "zero": false}, "title": null,
                  "axis": {"orient": "right", "values": [20, 80], "grid": true}}
          }
        },
        {
          "data": {"name": "stoch"},
          "transform": [{"filter": "datum.s == 'M'"}],
          "mark": {"type": "line", "color": "#9e2a2a", "strokeWidth": 2.2, "clip": true},
          "encoding": {
            "x": {"field": "i", "type": "quantitative", "scale": {"domain": [-0.5, 149.75], "nice": false, "zero": false}, "title": null},
            "y": {"field": "v", "type": "quantitative", "scale": {"domain": [-2.5, 110], "nice": false, "zero": false}, "title": null}
          }
        },
        {
          "data": {"values": [{"i": 0.75, "v": 76, "t": "Stoch(10,3,3) 65.5089 48.9146  Momentum(14) 100.0067"}]},
          "mark": {"type": "text", "align": "left", "baseline": "middle", "fontSize": 9.3, "font": "Liberation Sans", "color": "#000000"},
          "encoding": {
            "x": {"field": "i", "type": "quantitative", "scale": {"domain": [-0.5, 149.75], "nice": false, "zero": false}, "title": null},
            "y": {"field": "v", "type": "quantitative", "scale": {"domain": [-2.5, 110], "nice": false, "zero": false}, "title": null},
            "text": {"field": "t"}
          }
        }
      ]
    },
    {
      "width": 601,
      "height": 31,
      "layer": [
        {
          "data": {"name": "macd"},
          "transform": [{"filter": "datum.s == 'H'"}],
          "mark": {"type": "area", "color": "#b4b4b4", "opacity": 0.6, "clip": true},
          "encoding": {
            "x": {"field": "i", "type": "quantitative", "scale": {"domain": [-0.5, 149.75], "nice": false, "zero": false}, "title": null,
                  "axis": {"values": [0, 8, 16, 24, 32, 40, 48, 56, 64, 72, 80, 88, 96, 104, 112, 120, 128, 136, 144], "labels": false, "ticks": false, "grid": true}},
            "y": {"field": "v", "type": "quantitative", "scale": {"domain": [-0.124, 0.1295], "nice": false, "zero": false}, "title": null,
                  "axis": {"orient": "right", "values": [0.0723, 0, -0.0668], "grid": true, "labels": false}},
            "y2": {"datum": 0}
          }
        },
        {
          "data": {"name": "macd"},
          "transform": [{"filter": "datum.s == 'C'"}],
          "mark": {"type": "line", "color": "#3a9b7b", "strokeWidth": 1.6, "clip": true},
          "encoding": {
            "x": {"field": "i", "type": "quantitative", "scale": {"domain": [-0.5, 149.75], "nice": false, "zero": false}, "title": null},
            "y": {"field": "v", "type": "quantitative", "scale": {"domain": [-0.124, 0.1295], "nice": false, "zero": false}, "title": null}
          }
        },
        {
          "data": {"name": "macd"},
          "transform": [{"filter": "datum.s == 'S'"}],
          "mark": {"type": "line", "color": "#c42a2a", "strokeWidth": 2.6, "interpolate": "monotone", "clip": true},
          "encoding": {
            "x": {"field": "i", "type": "quantitative", "scale": {"domain": [-0.5, 149.75], "nice": false, "zero": false}, "title": null},
            "y": {"field": "v", "type": "quantitative", "scale": {"domain": [-0.124, 0.1295], "nice": false, "zero": false}, "title": null}
          }
        },
        {
          "data": {"values": [{"i": 0.75, "v": 0.047, "t": "MACD(12,26,9) 0.0079 0.0139  CCI(14) 90.9590"}]},
          "mark": {"type": "text", "align": "left", "baseline": "middle", "fontSize": 9.3, "font": "Liberation Sans", "color": "#000000"},
          "encoding": {
            "x": {"field": "i", "type": "quantitative", "scale": {"domain": [-0.5, 149.75], "nice": false, "zero": false}, "title": null},
            "y": {"field": "v", "type": "quantitative", "scale": {"domain": [-0.124, 0.1295], "nice": false, "zero": false}, "title": null},
            "text": {"field": "t"}
          }
        },
        {
          "data": {"values": [{"v": 0.0723, "t": "0.0723"}, {"v": 0, "t": "0.00"}, {"v": -0.0668, "t": "-0.0668"}]},
          "mark": {"type": "text", "align": "left", "baseline": "middle", "fontSize": 9.2, "font": "Liberation Sans", "color": "#000000"},
          "encoding": {
            "x": {"datum": 151, "type": "quantitative", "scale": {"domain": [-0.5, 149.75], "nice": false, "zero": false}, "title": null},
            "y": {"field": "v", "type": "quantitative", "scale": {"domain": [-0.124, 0.1295], "nice": false, "zero": false}, "title": null},
            "text": {"field": "t"}
          }
        }
      ]
    },
    {
      "width": 601,
      "height": 28,
      "layer": [
        {
          "data": {"name": "rsi"},
          "mark": {"type": "line", "color": "#3d80c4", "strokeWidth": 1.6, "clip": true},
          "encoding": {
            "x": {"field": "i", "type": "quantitative", "scale": {"domain": [-0.5, 149.75], "nice": false, "zero": false}, "title": null,
                  "axis": {"values": [0, 8, 16, 24, 32, 40, 48, 56, 64, 72, 80, 88, 96, 104, 112, 120, 128, 136, 144], "grid": true, "ticks": true, "labelOverlap": false, "labelFlush": false, "labelAlign": "left", "labelBaseline": "top", "labelOffset": -1, "labelFontSize": 9.6,
                           "labelExpr": "(datum.value % 16 == 0 && datum.value <= 128) ? ['24 May 2012','24 May 17:00','25 May 01:00','25 May 09:00','25 May 17:00','28 May 01:00','28 May 09:00','28 May 17:00','29 May 01:00'][datum.value / 16] : ''"}},
            "y": {"field": "v", "type": "quantitative", "scale": {"domain": [-57, 143], "nice": false, "zero": false}, "title": null,
                  "axis": {"orient": "right", "values": [0, 100], "grid": true}}
          }
        },
        {
          "data": {"values": [
            {"i": 0.75, "v": 86, "t": "RSI(14) 57.9806"}
          ]},
          "mark": {"type": "text", "align": "left", "baseline": "middle", "fontSize": 9.3, "font": "Liberation Sans", "color": "#000000"},
          "encoding": {
            "x": {"field": "i", "type": "quantitative", "scale": {"domain": [-0.5, 149.75], "nice": false, "zero": false}, "title": null},
            "y": {"field": "v", "type": "quantitative", "scale": {"domain": [-57, 143], "nice": false, "zero": false}, "title": null},
            "text": {"field": "t"}
          }
        },
        {
          "data": {"values": [
            {"i": 0.25, "v": -14, "t": "Axiory MetaTrader 4, © 2001-2012, MetaQuotes Software Corp."}
          ]},
          "mark": {"type": "text", "align": "left", "baseline": "middle", "fontSize": 11, "font": "Liberation Sans", "color": "#000000"},
          "encoding": {
            "x": {"field": "i", "type": "quantitative", "scale": {"domain": [-0.5, 149.75], "nice": false, "zero": false}, "title": null},
            "y": {"field": "v", "type": "quantitative", "scale": {"domain": [-57, 143], "nice": false, "zero": false}, "title": null},
            "text": {"field": "t"}
          }
        }
      ]
    }
  ]
}
